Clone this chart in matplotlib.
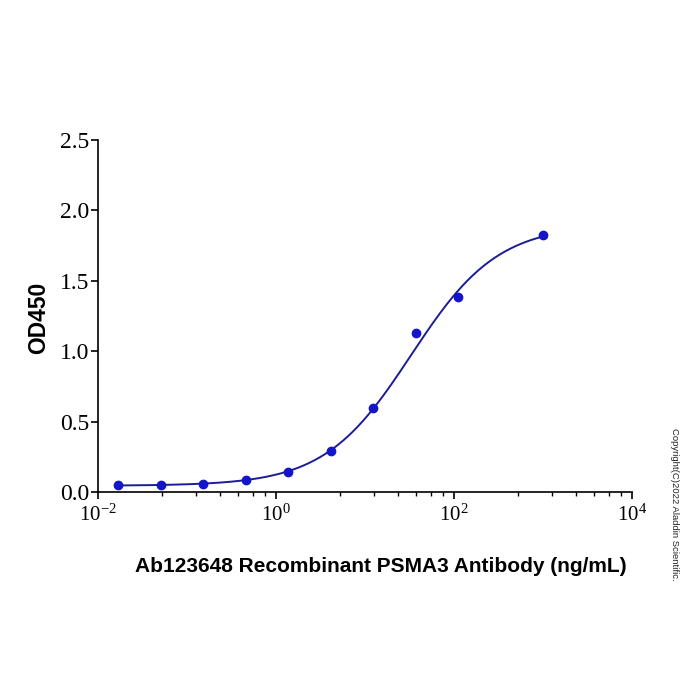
import numpy as np
import matplotlib
matplotlib.use("Agg")
import matplotlib.pyplot as plt
from matplotlib.ticker import FixedLocator, FormatStrFormatter, NullFormatter, FuncFormatter

# Data
concentration = [0.0169, 0.0508, 0.152, 0.457, 1.37, 4.12, 12.3, 37.0, 111.0, 1000.0]
od450 = [0.050, 0.050, 0.057, 0.085, 0.140, 0.290, 0.600, 1.130, 1.385, 1.825]

# 4-parameter logistic fit parameters (bottom, top, EC50, hill)
fit_bottom = 0.045
fit_top = 1.90
fit_ec50 = 32.9
fit_hill = 0.89

x_major = [1e-2, 1e0, 1e2, 1e4]
y_ticks = [0.0, 0.5, 1.0, 1.5, 2.0, 2.5]
n_minor = 6

plt.rcParams['mathtext.fontset'] = 'custom'
plt.rcParams['mathtext.rm'] = 'Liberation Serif'
plt.rcParams['mathtext.it'] = 'Liberation Serif:italic'
plt.rcParams['mathtext.bf'] = 'Liberation Serif:bold'

fig = plt.figure(figsize=(7, 7), dpi=100)
ax = fig.add_axes([0.14, 0.297, 0.763, 0.503])

xc = np.logspace(np.log10(min(concentration)), np.log10(max(concentration)), 400)
yc = fit_top + (fit_bottom - fit_top) / (1 + (xc / fit_ec50) ** fit_hill)
ax.plot(xc, yc, color='#1c1c96', lw=1.4, zorder=2)
ax.plot(concentration, od450, 'o', color='#1414c8', ms=6, zorder=3)

ax.set_xscale('log')
ax.set_xlim(x_major[0], x_major[-1])
ax.set_ylim(y_ticks[0], y_ticks[-1])

# Origin-style minor ticks: each major interval split as if it were one decade
minor = []
for lo, hi in zip(x_major[:-1], x_major[1:]):
    span = np.log10(hi / lo)
    for j in range(1, n_minor + 1):
        frac = np.log10(1 + 9 * j / (n_minor + 1))
        minor.append(lo * 10 ** (frac * span))
ax.xaxis.set_major_locator(FixedLocator(x_major))
ax.xaxis.set_minor_locator(FixedLocator(minor))
ax.xaxis.set_major_formatter(FuncFormatter(
    lambda v, p: r'$\mathrm{10^{%d}}$' % int(round(np.log10(v)))))
ax.xaxis.set_minor_formatter(NullFormatter())
ax.yaxis.set_major_locator(FixedLocator(y_ticks))
ax.yaxis.set_major_formatter(FormatStrFormatter('%.1f'))

for s in ['top', 'right']:
    ax.spines[s].set_visible(False)
for s in ['left', 'bottom']:
    ax.spines[s].set_linewidth(1.2)

ax.tick_params(axis='x', which='major', direction='out', length=5, width=1.2,
               labelsize=15, pad=4)
ax.tick_params(axis='y', which='major', direction='out', length=5, width=1.2,
               labelsize=17, pad=1.5)
ax.tick_params(axis='x', which='minor', direction='out', length=3, width=1.0)
for lab in ax.get_xticklabels() + ax.get_yticklabels():
    lab.set_fontfamily('Liberation Serif')

fig.text(381 / 700, 1 - 566 / 700, 'Ab123648 Recombinant PSMA3 Antibody (ng/mL)',
         fontsize=15, fontweight='bold', family='Liberation Sans',
         ha='center', va='center')
fig.text(39 / 700, 1 - 318 / 700, 'OD450', rotation=90, fontsize=16.4,
         fontweight='bold', family='Liberation Sans', ha='center', va='center')

fig.text(0.964, 1 - 428 / 700, 'Copyright(C)2022 Aladdin Scientific.', rotation=-90,
         fontsize=6.8, family='Liberation Sans', color='#222222', va='top', ha='center')

fig.savefig('out.png', dpi=100, facecolor='white')
